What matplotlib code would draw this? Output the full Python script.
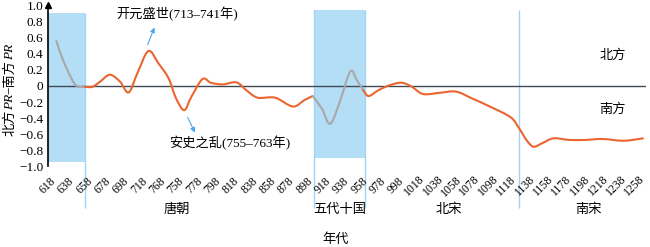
import matplotlib
matplotlib.use("Agg")
import matplotlib.pyplot as plt
from matplotlib.path import Path
from matplotlib.patches import PathPatch

plt.rcParams['font.family'] = ['Liberation Serif', 'Noto Sans CJK SC']

# data (year, north PR - south PR)
years = [627.6, 635, 644, 650, 658.5, 667, 675.5, 686, 697, 706.5, 716, 728, 739, 750,
         758, 767, 775, 787, 796, 809, 824, 834.5, 847, 866, 885.5, 898, 907, 917, 926,
         936, 948, 955, 962, 968, 979, 991.5, 1004, 1015, 1027.5, 1046.5, 1063.5, 1080.5,
         1102, 1123, 1132, 1140, 1147.6, 1157, 1169.6, 1186.6, 1203.5, 1222.7, 1246, 1267]
values = [0.56, 0.32, 0.095, 0.0, -0.01, -0.01, 0.055, 0.14, 0.055, -0.08, 0.16, 0.435,
          0.28, 0.095, -0.15, -0.30, -0.13, 0.087, 0.04, 0.02, 0.045, -0.05, -0.145, -0.145,
          -0.255, -0.175, -0.125, -0.28, -0.47, -0.215, 0.18, 0.075, -0.05, -0.125, -0.05,
          0.012, 0.04, -0.008, -0.1, -0.083, -0.07, -0.153, -0.265, -0.39, -0.525, -0.67,
          -0.754, -0.712, -0.65, -0.67, -0.67, -0.658, -0.68, -0.65]

tick_years = [618 + 20 * i for i in range(33)]
tick_labels = [str(y) for y in tick_years]
tick_labels[6] = "768"  # as printed in the original
ytick_vals = [1.0, 0.8, 0.6, 0.4, 0.2, 0, -0.2, -0.4, -0.6, -0.8, -1.0]
ytick_labels = ["1.0", "0.8", "0.6", "0.4", "0.2", "0", "\u22120.2", "\u22120.4",
                "\u22120.6", "\u22120.8", "\u22121.0"]

band_tang = (618, 659)
band_five = (908, 964)
song_split = 1132
dynasties = ["唐朝", "五代十国", "北宋", "南宋"]

orange = '#EB6530'
grey = '#A8A8A8'
blue_fill = '#B3DEF5'
blue_line = '#A3D3F7'
arrow_c = '#4DA6F0'

fig = plt.figure(figsize=(6.5, 2.47), dpi=100)
W, H = 650, 247
ax = fig.add_axes([47.5 / W, 1 - 166.5 / H, (645.7 - 47.5) / W, (166.5 - 5.5) / H])
ax.set_xlim(618, 1270)
ax.set_ylim(-1, 1)

# shaded periods
ax.fill_between(band_tang, -0.944, 0.907, color=blue_fill, lw=0, zorder=0)
ax.fill_between(band_five, -0.894, 0.944, color=blue_fill, lw=0, zorder=0)
ax.vlines([band_tang[1]], -1.515, 0.907, color=blue_line, lw=1, clip_on=False, zorder=1)
ax.vlines([band_five[0], band_five[1], song_split], -1.515, 0.944, color=blue_line,
          lw=1, clip_on=False, zorder=1)

ax.axhline(0, color='#3F4A55', lw=1, zorder=2)


# smoothed line (like the spreadsheet's smoothed series): Catmull-Rom drawn as Bezier path
def smooth_path(xs, ys):
    pts = list(zip(xs, ys))
    verts = [pts[0]]
    codes = [Path.MOVETO]
    for i in range(len(pts) - 1):
        p0 = pts[i - 1] if i > 0 else pts[i]
        p1 = pts[i]
        p2 = pts[i + 1]
        p3 = pts[i + 2] if i + 2 < len(pts) else pts[i + 1]
        c1 = (p1[0] + (p2[0] - p0[0]) / 6, p1[1] + (p2[1] - p0[1]) / 6)
        c2 = (p2[0] - (p3[0] - p1[0]) / 6, p2[1] - (p3[1] - p1[1]) / 6)
        verts += [c1, c2, p2]
        codes += [Path.CURVE4] * 3
    return Path(verts, codes)


def seg(lo, hi):
    xs = [x for x in years if lo <= x <= hi]
    ys = [v for x, v in zip(years, values) if lo <= x <= hi]
    return xs, ys

# grey inside shaded periods, orange outside; segments share end points
for lo, hi, c in [(600, 658.5, grey), (658.5, 907, orange), (907, 962, grey), (962, 1300, orange)]:
    xs, ys = seg(lo, hi)
    ax.add_patch(PathPatch(smooth_path(xs, ys), fill=False, edgecolor=c, lw=1.5,
                           capstyle='round', joinstyle='round', zorder=3))

for s in ['top', 'right', 'bottom']:
    ax.spines[s].set_visible(False)
ax.spines['left'].set_linewidth(1.2)
ax.plot([618], [1.0], marker='^', color='black', ms=4, clip_on=False)

ax.set_yticks(ytick_vals)
ax.set_yticklabels(ytick_labels, fontsize=9.5)
ax.set_xticks(tick_years)
ax.set_xticklabels(tick_labels, fontsize=8.5)
ax.tick_params(axis='y', length=0, pad=3)
ax.tick_params(axis='x', length=0, pad=14)
plt.setp(ax.get_xticklabels(), rotation=45, ha='center', va='center')

# annotations
ax.annotate("", xy=(735.7, 0.76), xytext=(726, 0.48),
            arrowprops=dict(arrowstyle='-|>', color=arrow_c, lw=0.8, mutation_scale=7))
ax.annotate("", xy=(780, -0.61), xytext=(769.5, -0.36),
            arrowprops=dict(arrowstyle='-|>', color=arrow_c, lw=0.8, mutation_scale=7))


def ftext(x, y, s, **kw):
    return fig.text(x / W, 1 - y / H, s, ha='center', va='center', **kw)

ftext(177, 14, "开元盛世(713–741年)", fontsize=9.5)
ftext(230, 143, "安史之乱(755–763年)", fontsize=9.5)
ftext(613, 56, "北方", fontsize=9.5)
ftext(613, 110, "南方", fontsize=9.5)
for name, xp in zip(dynasties, [177, 340, 449, 588]):
    ftext(xp, 210, name, fontsize=9.5)
ftext(336, 240, "年代", fontsize=9.5)

# y label built from pieces so PR can be italic
pieces = [("北方", 'normal'), ("PR", 'italic'), ("\u2212南方", 'normal'), ("PR", 'italic')]
fig.canvas.draw()
renderer = fig.canvas.get_renderer()
texts = []
for s, st in pieces:
    t = fig.text(10 / W, 0, s, rotation=90, ha='center', va='bottom', fontsize=9.5, style=st)
    texts.append(t)
lengths = [t.get_window_extent(renderer).height for t in texts]
total = sum(lengths)
start = (H - 90) - total / 2
for t, L in zip(texts, lengths):
    t.set_y(start / H)
    start += L

fig.savefig("out.png", dpi=100)
